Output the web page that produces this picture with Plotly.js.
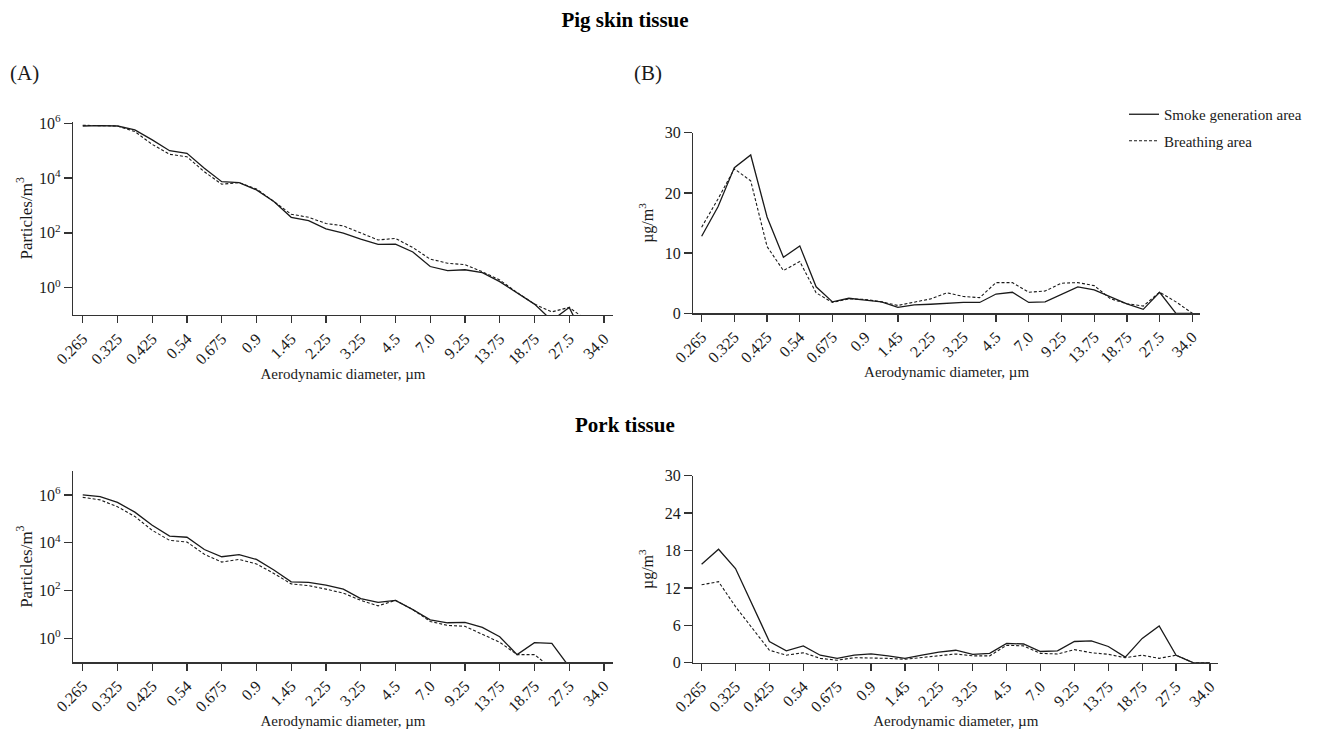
<!DOCTYPE html>
<html>
<head>
<meta charset="utf-8">
<script src="https://cdn.plot.ly/plotly-3.0.1.min.js"></script>
<style>html,body{margin:0;padding:0;background:#fff}#chart{width:1318px;height:733px}</style>
</head>
<body>
<div id="chart"></div>
<script>
// Aerodynamic diameter channels (µm)
const diameters = ["0.265","0.29","0.325","0.375","0.425","0.475","0.54","0.615","0.675","0.75","0.9","1.15","1.45","1.8","2.25","2.75","3.25","3.75","4.5","5.75","7.0","8.0","9.25","11.25","13.75","16.25","18.75","22.5","27.5","31.0","34.0"];
const tickLabels = ["0.265","0.325","0.425","0.54","0.675","0.9","1.45","2.25","3.25","4.5","7.0","9.25","13.75","18.75","27.5","34.0"];

// Pig skin tissue – particle number concentration (particles/m³)
const pigSkinCountSmoke = [8.0e5,8.3e5,8.0e5,5.8e5,2.5e5,1.0e5,8.0e4,2.3e4,7400,6800,3700,1400,370,280,140,98,59,38,39,20,5.9,4.2,4.5,3.5,1.66,0.66,0.25,0.063,0.19,0.01,0.01];
const pigSkinCountBreathing = [8.5e5,8.3e5,8.0e5,5.0e5,1.7e5,7.4e4,6.0e4,1.7e4,6000,6800,4000,1400,480,370,220,180,100,55,63,29,11,7.8,6.9,3.8,1.9,0.66,0.25,0.13,0.19,0.065,0.01];

// Pig skin tissue – mass concentration (µg/m³)
const pigSkinMassSmoke = [12.8,17.7,24.2,26.3,16.0,9.3,11.2,4.4,1.9,2.5,2.2,1.9,1.0,1.4,1.5,1.7,1.8,1.8,3.2,3.5,1.8,1.9,3.2,4.4,3.9,2.7,1.55,0.66,3.5,0,0];
const pigSkinMassBreathing = [14.3,19.0,24.0,22.0,11.1,7.1,8.6,3.4,1.8,2.4,2.3,1.9,1.3,1.9,2.4,3.4,2.8,2.6,5.1,5.1,3.5,3.7,5.0,5.1,4.6,2.4,1.6,1.2,3.5,1.9,0];

// Pork tissue – particle number concentration (particles/m³)
const porkCountSmoke = [1.0e6,8.5e5,4.9e5,1.9e5,5.4e4,1.9e4,1.7e4,5200,2600,3200,2000,720,230,220,170,115,46,32,39,16,6.0,4.5,4.7,2.9,1.17,0.21,0.66,0.62,0.065,0.01,0.01];
const porkCountBreathing = [7.9e5,6.2e5,3.2e5,1.26e5,3.3e4,1.26e4,1.07e4,3300,1550,2000,1300,520,190,160,115,78,39,23,39,16,5.1,3.5,3.2,1.45,0.69,0.21,0.21,0.055,0.01,0.01,0.01];

// Pork tissue – mass concentration (µg/m³)
const porkMassSmoke = [15.8,18.2,15.1,9.2,3.4,1.9,2.7,1.2,0.7,1.2,1.4,1.1,0.7,1.2,1.7,2.0,1.35,1.5,3.1,3.0,1.8,1.9,3.4,3.5,2.6,0.9,3.9,5.9,1.2,0,0];
const porkMassBreathing = [12.5,13.0,9.0,5.5,2.0,1.2,1.6,0.7,0.4,0.8,0.8,0.7,0.55,0.8,1.1,1.4,1.1,1.1,2.8,2.7,1.5,1.4,2.1,1.6,1.35,0.8,1.2,0.7,1.2,0,0];

const seriesNames = ["Smoke generation area","Breathing area"];

const W = 1318, H = 733;
const px = v => v / W;
const py = v => 1 - v / H;
const FONT = "Liberation Serif, Times New Roman, serif";
const INK = "#1a1a1a";
const AX = "#333";

function solid(y, xa, ya, show){
  return {x: diameters, y: y, xaxis: xa, yaxis: ya, type: "scatter", mode: "lines",
    name: seriesNames[0], legendgroup: "s", showlegend: show,
    line: {color: INK, width: 1.3}};
}
function dashed(y, xa, ya, show){
  return {x: diameters, y: y, xaxis: xa, yaxis: ya, type: "scatter", mode: "lines",
    name: seriesNames[1], legendgroup: "b", showlegend: show,
    line: {color: INK, width: 1.1, dash: "3px,2px"}};
}

const data = [
  solid(pigSkinCountSmoke, "x", "y", false),
  dashed(pigSkinCountBreathing, "x", "y", false),
  solid(pigSkinMassSmoke, "x2", "y2", true),
  dashed(pigSkinMassBreathing, "x2", "y2", true),
  solid(porkCountSmoke, "x3", "y3", false),
  dashed(porkCountBreathing, "x3", "y3", false),
  solid(porkMassSmoke, "x4", "y4", false),
  dashed(porkMassBreathing, "x4", "y4", false)
];

function xAxis(domain, range, anchor){
  return {domain: domain, anchor: anchor, type: "category", range: range,
    tickmode: "array", tickvals: tickLabels, ticktext: tickLabels, tickangle: -45,
    ticks: "outside", ticklen: 7, tickwidth: 1.3, tickcolor: AX,
    showline: true, linecolor: AX, linewidth: 1.3, showgrid: false, zeroline: false,
    tickfont: {family: FONT, size: 16, color: INK},
    title: {text: "Aerodynamic diameter, µm", font: {family: FONT, size: 15, color: INK}, standoff: 1},
    automargin: false, fixedrange: true};
}
const logTicks = [1, 100, 1e4, 1e6];
const logText = ["10<sup>0</sup>","10<sup>2</sup>","10<sup>4</sup>","10<sup>6</sup>"];
function yLog(domain, range, anchor){
  return {domain: domain, anchor: anchor, type: "log", range: range,
    tickmode: "array", tickvals: logTicks, ticktext: logText,
    ticks: "outside", ticklen: 8, tickwidth: 1.3, tickcolor: AX,
    showline: true, linecolor: AX, linewidth: 1.3, showgrid: false, zeroline: false,
    tickfont: {family: FONT, size: 16, color: INK},
    title: {text: "Particles/m<sup>3</sup>", font: {family: FONT, size: 17, color: INK}, standoff: 2},
    automargin: false, fixedrange: true};
}
function yLin(domain, dtick, anchor){
  return {domain: domain, anchor: anchor, type: "linear", range: [0, 30],
    tickmode: "linear", tick0: 0, dtick: dtick,
    ticks: "outside", ticklen: 8, tickwidth: 1.3, tickcolor: AX,
    showline: true, linecolor: AX, linewidth: 1.3, showgrid: false, zeroline: false,
    tickfont: {family: FONT, size: 16, color: INK},
    title: {text: "µg/m<sup>3</sup>", font: {family: FONT, size: 16, color: INK}, standoff: 7},
    automargin: false, fixedrange: true};
}

const layout = {
  width: W, height: H,
  margin: {l: 0, r: 0, t: 0, b: 0},
  paper_bgcolor: "#fff", plot_bgcolor: "#fff",
  font: {family: FONT, color: INK},
  title: {text: "<b>Pig skin tissue</b>", font: {family: FONT, size: 21, color: "#000"},
    xref: "paper", yref: "paper", x: px(625), y: py(20), xanchor: "center", yanchor: "middle"},
  xaxis:  xAxis([px(73), px(613)], [-0.56, 30.52], "y"),
  yaxis:  yLog([py(315), py(121.7)], [-1, 6.06], "x"),
  xaxis2: xAxis([px(693.3), px(1200)], [-0.51, 30.47], "y2"),
  yaxis2: yLin([py(313.3), py(132.7)], 10, "x2"),
  xaxis3: xAxis([px(73), px(613)], [-0.56, 30.52], "y3"),
  yaxis3: yLog([py(662.3), py(471)], [-1, 7], "x3"),
  xaxis4: xAxis([px(693.3), px(1218.3)], [-0.49, 30.49], "y4"),
  yaxis4: yLin([py(662.7), py(475.7)], 6, "x4"),
  showlegend: true,
  legend: {x: px(1124), y: py(98), xanchor: "left", yanchor: "top",
    font: {family: FONT, size: 15, color: INK}, bgcolor: "rgba(0,0,0,0)",
    traceorder: "grouped", tracegroupgap: 4},
  annotations: [
    {text: "<b>Pork tissue</b>", xref: "paper", yref: "paper", x: px(625), y: py(425),
      xanchor: "center", yanchor: "middle", showarrow: false, font: {family: FONT, size: 21, color: "#000"}},
    {text: "(A)", xref: "paper", yref: "paper", x: px(8), y: py(73),
      xanchor: "left", yanchor: "middle", showarrow: false, font: {family: FONT, size: 21, color: INK}},
    {text: "(B)", xref: "paper", yref: "paper", x: px(632), y: py(73),
      xanchor: "left", yanchor: "middle", showarrow: false, font: {family: FONT, size: 21, color: INK}}
  ]
};

Plotly.newPlot("chart", data, layout, {displayModeBar: false, staticPlot: true});
</script>
</body>
</html>
